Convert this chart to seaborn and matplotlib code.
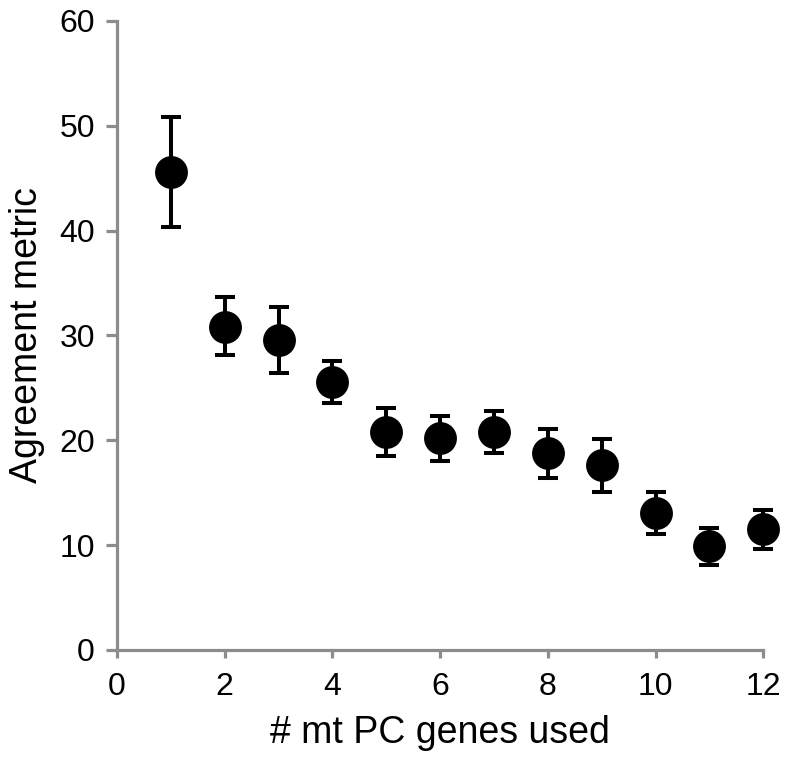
import numpy as np
import pandas as pd
import matplotlib
matplotlib.use("Agg")
import matplotlib.pyplot as plt
import seaborn as sns

# Data
genes_used = [1, 2, 3, 4, 5, 6, 7, 8, 9, 10, 11, 12]
agreement = [45.6, 30.8, 29.6, 25.6, 20.8, 20.2, 20.8, 18.8, 17.6, 13.1, 9.9, 11.5]
err_upper = [50.8, 33.7, 32.7, 27.6, 23.1, 22.3, 22.8, 21.1, 20.1, 15.1, 11.6, 13.4]
err_lower = [40.3, 28.1, 26.4, 23.6, 18.5, 18.0, 18.8, 16.4, 15.1, 11.1, 8.1, 9.6]

df = pd.DataFrame({"genes": genes_used, "metric": agreement,
                   "hi": err_upper, "lo": err_lower})

sns.set_style("white")
plt.rcParams['font.family'] = ['Liberation Sans', 'DejaVu Sans']
plt.rcParams['text.color'] = 'black'
plt.rcParams['axes.labelcolor'] = 'black'

fig = plt.figure(figsize=(7.89, 7.62), dpi=100)
ax = fig.add_axes([0.1483, 0.147, 0.819, 0.8255])

# Error bars
yerr = np.array([df["metric"] - df["lo"], df["hi"] - df["metric"]])
ax.errorbar(df["genes"], df["metric"], yerr=yerr, fmt="none", ecolor="black",
            elinewidth=2.9, capsize=7, capthick=2.9, zorder=2, clip_on=False)

# Points
sns.scatterplot(data=df, x="genes", y="metric", ax=ax, color="black",
                s=560, edgecolor="black", linewidth=0, zorder=3, clip_on=False)

ax.set_xlim(0, 12)
ax.set_ylim(0, 60)
ax.set_xticks(range(0, 13, 2))
ax.set_yticks(range(0, 61, 10))

grey = "#8c8c8c"
for side in ["top", "right"]:
    ax.spines[side].set_visible(False)
for side in ["left", "bottom"]:
    ax.spines[side].set_color(grey)
    ax.spines[side].set_linewidth(2.3)

ax.tick_params(axis="y", direction="out", length=8, width=2.3, color=grey,
               labelsize=23, pad=8, left=True, labelcolor="black")
ax.tick_params(axis="x", direction="out", length=5.5, width=2.3, color=grey,
               labelsize=23, pad=10, bottom=True, labelcolor="black")

ax.set_xlabel("# mt PC genes used", fontsize=27, labelpad=10, color="black")
ax.set_ylabel("Agreement metric", fontsize=27, labelpad=10, color="black")

fig.savefig("out.png", dpi=100)
